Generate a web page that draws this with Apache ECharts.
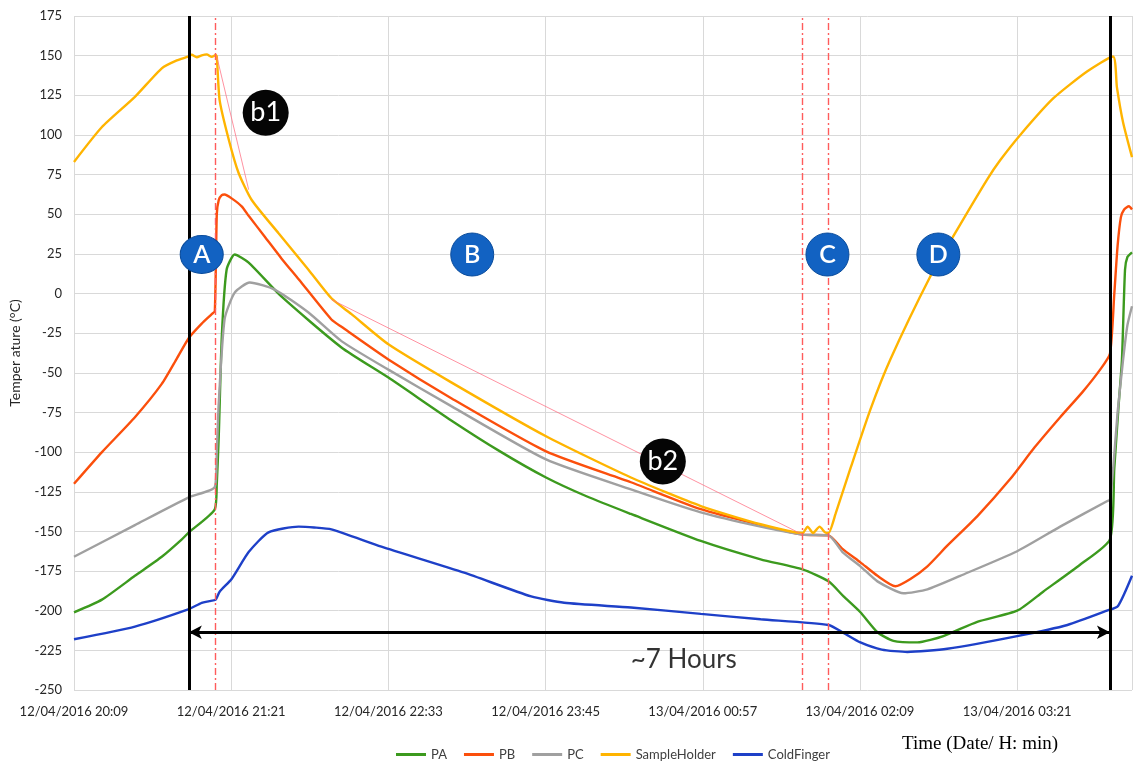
<!DOCTYPE html>
<html>
<head>
<meta charset="utf-8">
<script src="https://cdn.jsdelivr.net/npm/echarts@6/dist/echarts.min.js"></script>
<style>
  html, body { margin: 0; padding: 0; background: #fff; }
  #chart { width: 1134px; height: 763px; }
</style>
</head>
<body>
<div id="chart"></div>
<script>
// Time is given in minutes after 12/04/2016 20:09; temperatures in °C.
const tickStep = 72;
const tickLabels = ['12/04/2016 20:09', '12/04/2016 21:21', '12/04/2016 22:33', '12/04/2016 23:45',
                    '13/04/2016 00:57', '13/04/2016 02:09', '13/04/2016 03:21'];
const timeEnd = 484.6;

const seriesNames = ['PA', 'PB', 'PC', 'SampleHolder', 'ColdFinger'];

const paData = [
  [0, -201], [12.8, -193], [27.9, -178], [40.2, -166], [49.4, -155], [52.6, -150.6], [64.5, -136],
  [65.4, -120], [66.3, -90], [67.7, -27], [69.9, 15], [73.6, 24.6], [80, 19.5], [95.1, -2],
  [122.5, -34], [144, -53], [172.8, -80], [195.7, -100], [216.2, -116], [235, -128],
  [255.1, -139], [287.1, -156], [314.5, -167.6], [333.7, -174], [345.6, -181.5], [352.5, -191],
  [360.2, -201], [368, -213.6], [375.3, -219], [386.3, -220], [398.2, -216], [413.7, -207],
  [432, -200], [443.9, -188], [460.8, -171], [474.5, -155], [476.5, -110], [478.5, -70],
  [480, -41.6], [481.4, 15], [482.5, 23], [484.6, 26]
];

const pbData = [
  [0, -120], [12.8, -100], [27.9, -78], [40.2, -57], [47.1, -41], [52.6, -28], [58.5, -19],
  [63.1, -13], [64.5, -11], [65.4, 50], [66.3, 59], [67.7, 62], [69, 62.4], [72.2, 60],
  [76.8, 55], [80, 49], [87.3, 36], [95.1, 22], [102.9, 9], [117.9, -16.4], [122.5, -21],
  [144, -41.6], [172.8, -66], [216.2, -99.5], [255.1, -119], [287.1, -136], [314.5, -146],
  [333.7, -152], [345.6, -152.5], [352, -161], [360.2, -169.5], [368, -178], [376.2, -184.6],
  [383.1, -180], [390.9, -172], [400, -159], [413.7, -140.5], [428.8, -117], [440, -97],
  [451.7, -78], [462, -62], [470, -48], [474.5, -38], [476.5, 0], [478, 30], [479.5, 48],
  [481, 53], [483.2, 55], [484.6, 53]
];

const pcData = [
  [0, -166], [27.9, -146], [52.6, -128.5], [64.5, -122], [65.4, -100], [66.3, -69], [69, -16],
  [73.6, 0.6], [80.5, 7], [91.9, 2.5], [107.4, -12], [122.5, -30], [144, -48], [172.8, -71],
  [216.2, -104.6], [255.1, -123.5], [287.1, -138], [314.5, -147], [333.7, -152], [345.6, -152.5],
  [352, -163], [360.2, -172], [368, -181.5], [379.9, -189], [390.9, -186.5], [405.9, -178],
  [432, -162.5], [451.7, -147], [473.1, -131], [474.5, -130], [476, -110], [478, -75],
  [480.5, -42], [482.5, -20], [484.6, -8]
];

const shData = [
  [0, 83], [12.8, 105], [27.9, 124], [40.2, 142], [47.1, 147], [52.6, 149.5], [53.9, 150.6],
  [56.2, 149], [58.5, 150.2], [60.8, 150.8], [63.1, 149.2], [64.9, 150.4], [65.4, 149.4],
  [66.7, 122], [70.9, 97], [75.4, 76], [81.4, 59], [93.7, 38], [107.4, 15], [117.9, -3],
  [127.1, -13], [144, -32], [172.8, -56], [216.2, -90], [255.1, -116], [287.1, -134],
  [314.5, -145.5], [333.7, -151], [336, -147], [338.5, -151], [341.5, -147], [344, -150.6],
  [345.6, -151], [348.8, -139], [355.7, -110], [364.8, -73], [373.9, -41.6], [392.2, 10.7],
  [402.7, 36], [418.3, 72], [424.2, 84], [433.4, 100], [448.5, 123], [464, 140], [475.9, 149.5],
  [477.7, 130], [480.5, 108], [484.6, 86]
];

const cfData = [
  [0, -218], [27.9, -210], [52.6, -199], [58.5, -195], [62, -194], [64.9, -193], [66.7, -188],
  [72.2, -180], [80, -163], [89.1, -150.6], [102.9, -147], [110, -147.5], [117.9, -148.7],
  [140.8, -159.6], [178.7, -176], [209.4, -191], [224.5, -195], [255.1, -198], [287.1, -202],
  [314.5, -205.4], [345.6, -209], [352.5, -214], [360.2, -220], [370, -224.5], [381.7, -226],
  [400, -224], [432, -216], [455, -209], [473.1, -200], [478.2, -197], [484.6, -178]
];

const seriesColors = ['#3c9a1e', '#fb4f0c', '#a0a0a0', '#ffb400', '#1e40c8'];

// Annotation positions (time in minutes, temperature in °C)
const cycleBounds = [52.6, 474.5];
const phaseCuts = [64.9, 333.7, 345.6];
const coolingTangents = [
  [[65.4, 149.5], [80, 65.5]],
  [[117.9, -3.8], [333.7, -152]]
];
const cycleArrowLevel = -213.6;
const phaseMarks = [['A', 58.5, 24.6], ['B', 182.4, 24.6], ['C', 345.1, 24.6], ['D', 395.9, 24.6]];
const stepMarks = [['b1', 87.8, 114], ['b2', 269.7, -105.9]];
const durationNote = ['~7 Hours', 279.3, -230.6];

const chart = echarts.init(document.getElementById('chart'));

const curveSeries = seriesNames.map((name, i) => ({
  name,
  type: 'line',
  data: [paData, pbData, pcData, shData, cfData][i],
  showSymbol: false,
  smooth: 0.2,
  lineStyle: { width: 2.4, color: seriesColors[i] },
  itemStyle: { color: seriesColors[i] },
  z: 2
}));

const guideSeries = {
  name: 'guides',
  type: 'line',
  data: [],
  z: 4,
  silent: true,
  markLine: {
    silent: true,
    symbol: 'none',
    animation: false,
    label: { show: false },
    data: [
      ...cycleBounds.map(v => ({ xAxis: v, lineStyle: { color: '#000', width: 3, type: 'solid' } })),
      ...phaseCuts.map(v => ({ xAxis: v, lineStyle: { color: '#ff5c5c', width: 1.4, type: [7, 3, 2, 3] } })),
      ...coolingTangents.map(seg => [
        { coord: seg[0], lineStyle: { color: 'rgba(255,110,130,0.75)', width: 1, type: 'solid' } },
        { coord: seg[1] }
      ])
    ]
  }
};

const arrowSeries = {
  name: 'span',
  type: 'line',
  data: [],
  z: 4,
  silent: true,
  markLine: {
    silent: true,
    animation: false,
    symbol: ['arrow', 'arrow'],
    symbolSize: [10, 13],
    label: { show: false },
    lineStyle: { color: '#000', width: 3, type: 'solid' },
    data: [[{ coord: [cycleBounds[0], cycleArrowLevel] }, { coord: [cycleBounds[1], cycleArrowLevel] }]]
  }
};

const phaseSeries = {
  name: 'phases',
  type: 'scatter',
  silent: true,
  z: 6,
  data: phaseMarks.map(m => ({
    value: [m[1], m[2]],
    name: m[0],
    symbolSize: m[0] === 'A' ? [43, 38] : 43
  })),
  itemStyle: { color: '#1262c2', borderColor: '#0a4c9c', borderWidth: 1, opacity: 1 },
  label: {
    show: true, position: 'inside', formatter: p => p.name,
    color: '#fff', fontFamily: 'Lato', fontSize: 25, fontWeight: 600
  }
};

const stepSeries = {
  name: 'steps',
  type: 'scatter',
  silent: true,
  z: 6,
  symbolSize: 46,
  data: stepMarks.map(m => ({ value: [m[1], m[2]], name: m[0] })),
  itemStyle: { color: '#050505', opacity: 1 },
  label: {
    show: true, position: 'inside', formatter: p => p.name,
    color: '#fff', fontFamily: 'Lato', fontSize: 27
  }
};

const noteSeries = {
  name: 'note',
  type: 'scatter',
  silent: true,
  z: 6,
  symbolSize: 1,
  itemStyle: { color: 'rgba(0,0,0,0)' },
  data: [{ value: [durationNote[1], durationNote[2]], name: durationNote[0] }],
  label: {
    show: true, position: 'inside', formatter: p => p.name,
    color: '#000', fontFamily: 'Lato', fontSize: 26
  }
};

chart.setOption({
  animation: false,
  backgroundColor: '#fff',
  grid: { left: 72, right: 2, top: 16, bottom: 73 },
  xAxis: {
    type: 'value',
    min: 0,
    max: timeEnd,
    interval: tickStep,
    axisLine: { show: false },
    axisTick: { show: false },
    splitLine: { show: true, lineStyle: { color: '#d9d9d9', width: 1 } },
    axisLabel: {
      showMaxLabel: false,
      margin: 15,
      color: '#262626',
      fontFamily: 'Lato',
      fontSize: 13,
      formatter: v => (v % tickStep === 0 ? (tickLabels[v / tickStep] || '') : '')
    }
  },
  yAxis: {
    type: 'value',
    min: -250,
    max: 175,
    interval: 25,
    name: 'Temper ature (°C)',
    nameLocation: 'middle',
    nameGap: 52,
    nameTextStyle: { color: '#262626', fontFamily: 'Lato', fontSize: 14 },
    axisLine: { show: false },
    axisTick: { show: false },
    splitLine: { show: true, lineStyle: { color: '#d9d9d9', width: 1 } },
    axisLabel: { margin: 12, color: '#262626', fontFamily: 'Lato', fontSize: 13 }
  },
  legend: {
    data: seriesNames,
    left: 391,
    top: 743,
    icon: 'rect',
    itemWidth: 30,
    itemHeight: 3,
    itemGap: 17,
    textStyle: { color: '#404040', fontFamily: 'Lato', fontSize: 13 }
  },
  graphic: [{
    type: 'text',
    left: 902,
    top: 735,
    style: { text: 'Time (Date/ H: min)', font: '19px "Liberation Serif"', fill: '#000' }
  }],
  series: [...curveSeries, guideSeries, arrowSeries, phaseSeries, stepSeries, noteSeries]
});
</script>
</body>
</html>
